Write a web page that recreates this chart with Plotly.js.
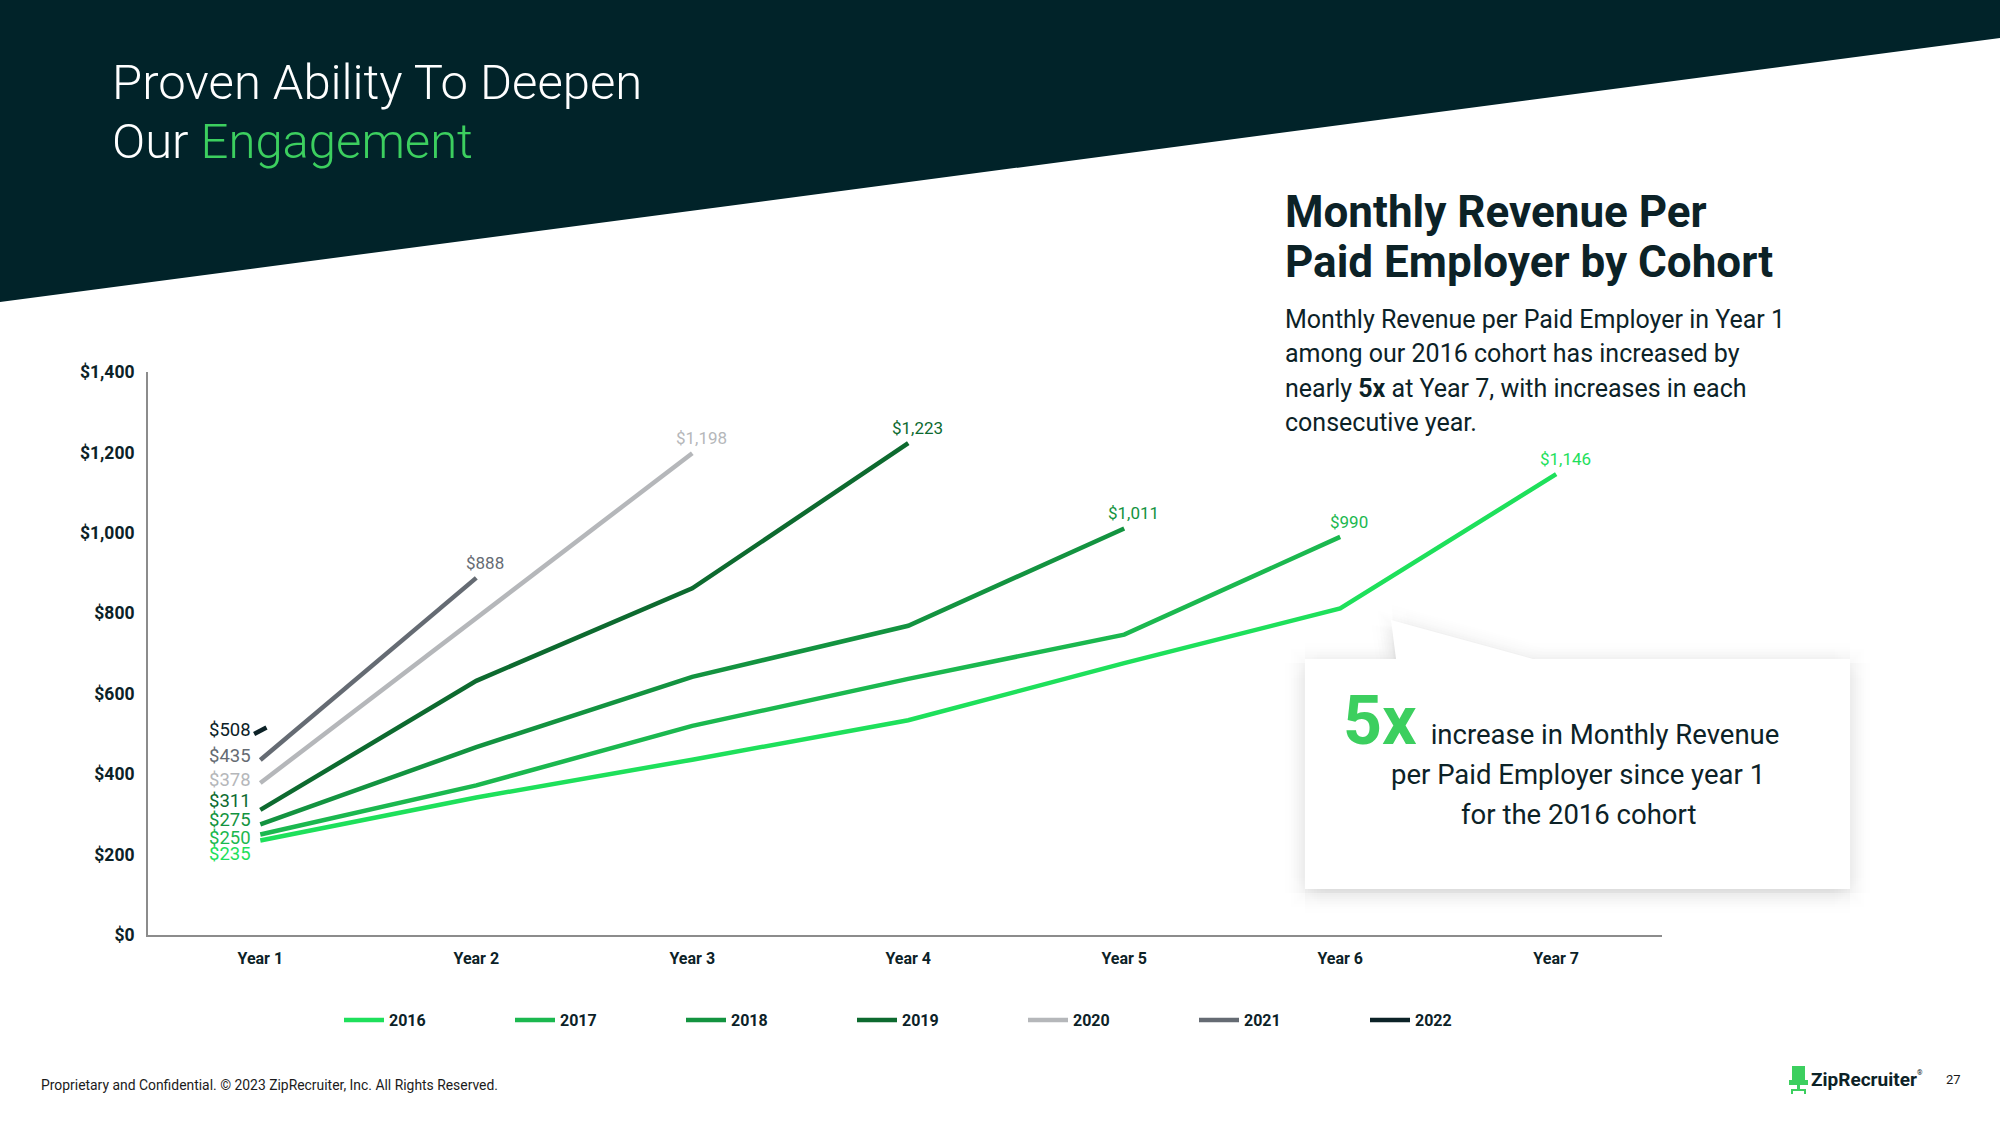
<!DOCTYPE html>
<html>
<head>
<meta charset="utf-8">
<script src="https://cdn.plot.ly/plotly-3.0.1.min.js"></script>
<style>
html,body{margin:0;padding:0;background:#ffffff;}
#chart{width:2000px;height:1125px;}
</style>
</head>
<body>
<div id="chart"></div>
<script>
// ---------------- DATA ----------------
const years = ['Year 1', 'Year 2', 'Year 3', 'Year 4', 'Year 5', 'Year 6', 'Year 7'];
const cohorts = ['2016', '2017', '2018', '2019', '2020', '2021', '2022'];
const rev2016 = [235, 342, 436, 534, 676, 812, 1146];
const rev2017 = [250, 372, 520, 637, 747, 990];
const rev2018 = [275, 467, 642, 769, 1011];
const rev2019 = [311, 632, 862, 1223];
const rev2020 = [378, 788, 1198];
const rev2021 = [435, 888];
const rev2022 = [508];
const yTicks = [0, 200, 400, 600, 800, 1000, 1200, 1400];

// ---------------- STYLE ----------------
const series = [rev2016, rev2017, rev2018, rev2019, rev2020, rev2021, rev2022];
const colors = ['#1ee05b', '#1bb84f', '#139340', '#0d6a2f', '#b5b7ba', '#656b73', '#0c2227'];
const INK = '#0c2227';
const FONT = 'Roboto, "Noto Sans", sans-serif';

// plot area in pixels
const L = 148, T = 372, W = 1514, H = 563;
const X = p => (p - L) / W;
const Y = p => (T + H - p) / H;

const fmt = v => '$' + v.toLocaleString('en-US');

// ---------------- TRACES ----------------
const traces = [];
series.forEach((vals, i) => {
  traces.push({
    type: 'scatter',
    name: cohorts[i],
    x: years.slice(0, vals.length),
    y: vals,
    mode: 'lines',
    line: {color: colors[i], width: 4.5},
    hoverinfo: 'skip',
    cliponaxis: false
  });
  if (vals.length === 1) {
    // a single-year cohort: drawn as a short dash at its only point
    traces.push({
      type: 'scatter',
      name: cohorts[i],
      showlegend: false,
      x: years.slice(0, vals.length),
      y: vals,
      mode: 'markers',
      marker: {symbol: 'line-ew', angle: -28, size: 10, color: colors[i],
               line: {color: colors[i], width: 4.5}},
      hoverinfo: 'skip',
      cliponaxis: false
    });
  }
});

// ---------------- ANNOTATIONS ----------------
const annotations = [];
const startShift = [-13, -3.5, 4, 9, 2.5, 4, 1];
series.forEach((vals, i) => {
  annotations.push({
    xref: 'x', yref: 'y', x: years[0], y: vals[0],
    text: fmt(vals[0]), showarrow: false,
    xanchor: 'right', yanchor: 'middle', xshift: -7, yshift: startShift[i],
    font: {family: FONT, size: 18.5, color: colors[i]}
  });
});
series.forEach((vals, i) => {
  if (vals.length < 2) return;
  const n = vals.length;
  annotations.push({
    xref: 'x', yref: 'y', x: years[n - 1], y: vals[n - 1],
    text: fmt(vals[n - 1]), showarrow: false,
    xanchor: 'center', yanchor: 'middle', xshift: 9, yshift: 15,
    font: {family: FONT, size: 17, color: colors[i]}
  });
});

function txt(text, x, y, size, color, opts) {
  return Object.assign({
    xref: 'paper', yref: 'paper', x: X(x), y: Y(y), text: text,
    showarrow: false, xanchor: 'left', yanchor: 'middle', borderpad: 0,
    font: {family: FONT, size: size, color: color}
  }, opts || {});
}

annotations.push(txt('Proven Ability To Deepen', 111, 82, 49, '#ffffff', {font: {family: FONT, size: 49, color: '#ffffff', weight: 300}}));
annotations.push(txt('Our <span style="color:#3ccf5f">Engagement</span>', 111, 141, 49, '#ffffff', {font: {family: FONT, size: 49, color: '#ffffff', weight: 300}}));

annotations.push(txt('Monthly Revenue Per', 1284, 212, 44, INK, {font: {family: FONT, size: 44, color: INK, weight: 700}}));
annotations.push(txt('Paid Employer by Cohort', 1284, 262, 44, INK, {font: {family: FONT, size: 44, color: INK, weight: 700}}));

const para = [
  'Monthly Revenue per Paid Employer in Year 1',
  'among our 2016 cohort has increased by',
  'nearly <b>5x</b> at Year 7, with increases in each',
  'consecutive year.'
];
const paraY = [319, 353, 388, 422];
para.forEach((p, i) => annotations.push(txt(p, 1284, paraY[i], 25, INK)));

annotations.push(txt('<b style="color:#3ccf5f;font-size:68px">5x</b>\u2002increase in Monthly Revenue', 1342, 720.5, 27.5, INK));
annotations.push(txt('per Paid Employer since year 1', 1578, 774, 27.5, INK, {xanchor: 'center'}));
annotations.push(txt('for the 2016 cohort', 1578, 814, 27.5, INK, {xanchor: 'center'}));

annotations.push(txt('Proprietary and Confidential. \u00a9 2023 ZipRecruiter, Inc. All Rights Reserved.', 40, 1085, 13.9, '#1b1b1b'));
annotations.push(txt('ZipRecruiter', 1810, 1079, 19, INK, {font: {family: FONT, size: 19, color: INK, weight: 700}}));
annotations.push(txt('\u00ae', 1916, 1073, 7, INK));
annotations.push(txt('27', 1945, 1079, 13, '#1b1b1b'));

// ---------------- SHAPES ----------------
const shapes = [];
function pathOf(pts) {
  return 'M' + pts.map(p => X(p[0]) + ',' + Y(p[1])).join(' L') + ' Z';
}
shapes.push({type: 'path', xref: 'paper', yref: 'paper', layer: 'below',
  path: pathOf([[0, 0], [2000, 0], [2000, 38], [0, 302]]),
  fillcolor: '#012329', line: {width: 0}});

const callout = [[1305, 659], [1396, 659], [1391, 620], [1533, 659], [1850, 659], [1850, 889], [1305, 889]];
const radii = [3, 6, 9, 12, 16, 20];
radii.forEach(r => {
  for (let k = 0; k < 8; k++) {
    const a = k * Math.PI / 4;
    const dx = r * Math.cos(a), dy = r * Math.sin(a) + 4;
    shapes.push({type: 'path', xref: 'paper', yref: 'paper', layer: 'below',
      path: pathOf(callout.map(p => [p[0] + dx, p[1] + dy])),
      fillcolor: 'rgba(0,0,0,0.0055)', line: {width: 0}});
  }
});
shapes.push({type: 'path', xref: 'paper', yref: 'paper', layer: 'below',
  path: pathOf(callout), fillcolor: '#ffffff', line: {width: 0}});

const GREEN = '#3ccf5f';
function rect(x0, y0, x1, y1, c) {
  shapes.push({type: 'rect', xref: 'paper', yref: 'paper', layer: 'above',
    x0: X(x0), x1: X(x1), y0: Y(y0), y1: Y(y1), fillcolor: c, line: {width: 0}});
}
rect(1792, 1066, 1805, 1081, GREEN);
rect(1789, 1080, 1808, 1085, GREEN);
rect(1797, 1085, 1800, 1090, GREEN);
rect(1791, 1089, 1806, 1091, GREEN);
rect(1791, 1089, 1793, 1094, GREEN);
rect(1804, 1089, 1806, 1094, GREEN);

// ---------------- LAYOUT ----------------
const layout = {
  width: 2000, height: 1125,
  margin: {l: L, r: 2000 - L - W, t: T, b: 1125 - T - H, pad: 0},
  paper_bgcolor: '#ffffff', plot_bgcolor: 'rgba(0,0,0,0)',
  font: {family: FONT, color: INK},
  xaxis: {
    type: 'category', categoryorder: 'array', categoryarray: years,
    range: [-0.52, 6.49], showline: true, linecolor: '#8c8c8c', linewidth: 2,
    showgrid: false, zeroline: false, ticks: '', ticklabelstandoff: 8,
    tickfont: {family: FONT, size: 16, color: INK, weight: 700}, fixedrange: true
  },
  yaxis: {
    range: [0, 1400], tickmode: 'array', tickvals: yTicks, ticktext: yTicks.map(fmt),
    showline: true, linecolor: '#8c8c8c', linewidth: 2,
    showgrid: false, zeroline: false, ticks: '', ticklabelstandoff: 8,
    tickfont: {family: FONT, size: 17.5, color: INK, weight: 700}, fixedrange: true
  },
  showlegend: true,
  legend: {
    orientation: 'h', x: X(339), xanchor: 'left', y: Y(1020), yanchor: 'middle',
    font: {family: FONT, size: 16, color: INK, weight: 700},
    entrywidth: 116, entrywidthmode: 'pixels', bgcolor: 'rgba(0,0,0,0)',
    itemwidth: 40, traceorder: 'normal'
  },
  annotations: annotations,
  shapes: shapes
};

Plotly.newPlot('chart', traces, layout, {displayModeBar: false, staticPlot: true});
</script>
</body>
</html>
